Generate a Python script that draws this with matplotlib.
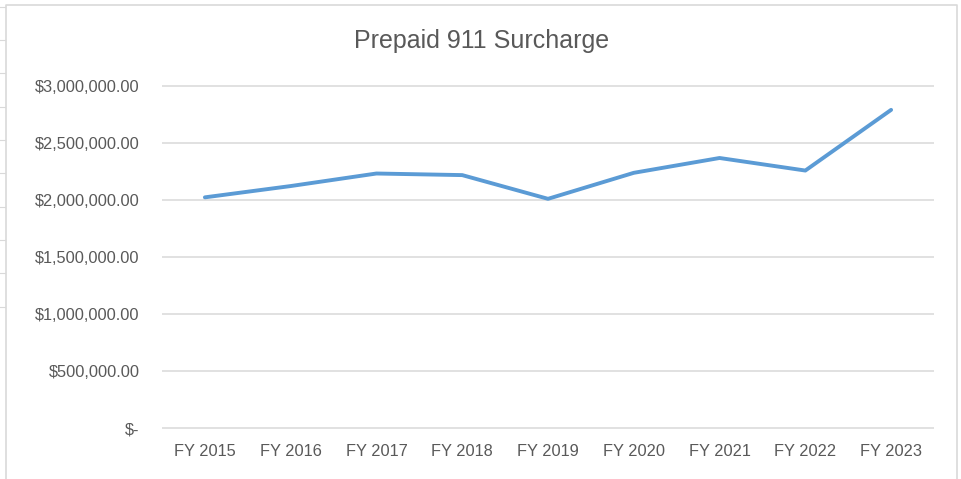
import matplotlib.pyplot as plt
from matplotlib.lines import Line2D
from matplotlib.ticker import FuncFormatter

plt.rcParams["font.family"] = ["Liberation Sans", "DejaVu Sans"]

# data
years = ["FY 2015", "FY 2016", "FY 2017", "FY 2018", "FY 2019",
         "FY 2020", "FY 2021", "FY 2022", "FY 2023"]
surcharge = [2023000, 2122000, 2232000, 2218000, 2010000,
             2238000, 2368000, 2258000, 2790000]
y_ticks = [0, 500000, 1000000, 1500000, 2000000, 2500000, 3000000]

BLUE = "#5B9BD5"
GRID = "#D9D9D9"
TEXT = "#595959"

W, H = 961, 479
fig = plt.figure(figsize=(W / 100, H / 100), dpi=100)
ax = fig.add_axes([162 / W, 1 - 429 / H, (934 - 162) / W, (429 - 85) / H])


def money(v, pos):
    if v == 0:
        return "$-"
    return f"${v:,.2f}"


x = list(range(len(years)))
ax.plot(x, surcharge, color=BLUE, linewidth=2.8, solid_capstyle="round",
        solid_joinstyle="round", clip_on=False, zorder=3)

ax.set_xlim(-0.5, len(years) - 0.5)
ax.set_ylim(-8000, 3008000)
ax.set_xticks(x)
ax.set_xticklabels(years)
ax.set_yticks(y_ticks)
ax.yaxis.set_major_formatter(FuncFormatter(money))
ax.tick_params(axis="both", length=0, labelsize=11.8, colors=TEXT)
ax.tick_params(axis="x", pad=11)
ax.tick_params(axis="y", pad=16)
ax.grid(axis="y", color=GRID, linewidth=1.1)
ax.set_axisbelow(True)
for s in ax.spines.values():
    s.set_visible(False)

fig.text(482 / W, 1 - 41 / H, "Prepaid 911 Surcharge", ha="center",
         va="center", fontsize=18, color=TEXT)

# chart border and spreadsheet cell edges
def fline(xs, ys, **kw):
    fig.add_artist(Line2D([v / W for v in xs], [1 - v / H for v in ys],
                          transform=fig.transFigure, color=GRID, **kw))

fline([5.5, 5.5, 956.5, 956.5], [479, 4.5, 4.5, 479], linewidth=1.2)
for yy in [7, 40, 73, 107, 140, 173, 207, 240, 273, 307]:
    fline([0, 5], [yy, yy], linewidth=0.8)

fig.savefig("out.png", dpi=100, facecolor="white")
